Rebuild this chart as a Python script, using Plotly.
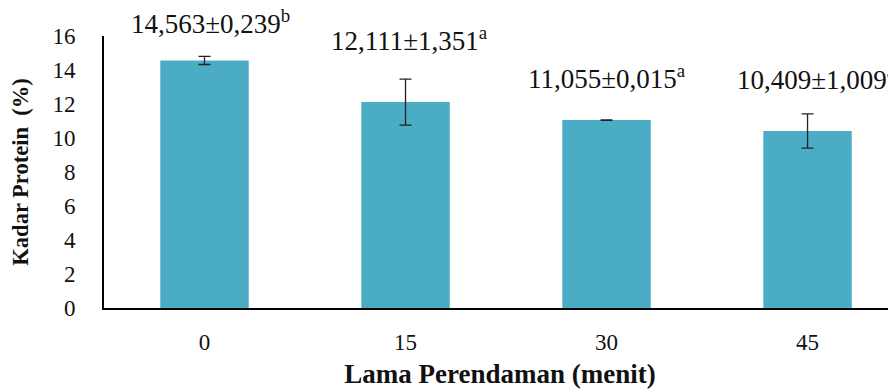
import plotly.graph_objects as go

categories = ["0", "15", "30", "45"]
protein = [14.563, 12.111, 11.055, 10.409]
sd = [0.239, 1.351, 0.015, 1.009]
letters = ["b", "a", "a", "a"]
label_y = [16.85, 15.85, 13.6, 13.55]
label_text = [f"{m:.3f}".replace(".", ",") + "±" + f"{s:.3f}".replace(".", ",") + f"<sup>{l}</sup>"
              for m, s, l in zip(protein, sd, letters)]

FONT = "Liberation Serif"
YMAX = 16

fig = go.Figure()
fig.add_trace(go.Bar(
    x=list(range(len(categories))), y=protein, width=0.44,
    marker=dict(color="#4BACC6", line=dict(width=0)),
    error_y=dict(type="data", array=sd, visible=True, color="#222222", thickness=1.3, width=6),
))

xshifts = [6, 4, 0, 9]
for i, (t, yy) in enumerate(zip(label_text, label_y)):
    fig.add_annotation(x=i, xref="x", y=yy / YMAX, yref="paper", text=t, showarrow=False,
                       xanchor="center", yanchor="middle", xshift=xshifts[i],
                       font=dict(family=FONT, size=27, color="#111111"))

# page body has an 8px margin, so the figure is sized/offset to fill the 896x389 window
fig.update_layout(
    width=888, height=381,
    margin=dict(l=96, r=0, t=28, b=81, autoexpand=False),
    paper_bgcolor="white", plot_bgcolor="white",
    showlegend=False,
    font=dict(family=FONT, color="#111111"),
    xaxis=dict(
        range=[-0.5, 3.44], tickmode="array", tickvals=list(range(len(categories))), ticktext=categories,
        showline=True, linecolor="black", linewidth=2, showgrid=False, zeroline=False,
        ticks="outside", ticklen=12, tickcolor="rgba(0,0,0,0)", automargin=False,
        tickfont=dict(family=FONT, size=23, color="#111111"),
        title=dict(text="<b>Lama Perendaman (menit)</b>", font=dict(family=FONT, size=27, color="#111111"), standoff=16),
    ),
    yaxis=dict(
        range=[0, YMAX], tickmode="array", tickvals=[0, 2, 4, 6, 8, 10, 12, 14, 16],
        showline=True, linecolor="black", linewidth=2, showgrid=False, zeroline=False,
        ticks="outside", ticklen=22, tickcolor="rgba(0,0,0,0)", automargin=False,
        tickfont=dict(family=FONT, size=23, color="#111111"),
        title=dict(text="<b>Kadar Protein  (%)</b>", font=dict(family=FONT, size=22.5, color="#111111"), standoff=20),
    ),
)

fig.write_html("out.html")
